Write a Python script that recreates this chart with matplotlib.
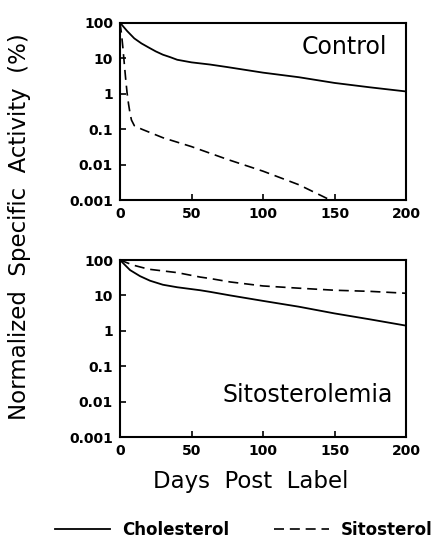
import matplotlib
matplotlib.use("Agg")
import matplotlib.pyplot as plt
import numpy as np

# values (days, % of initial specific activity)
ctrl_chol_days = [0, 5, 10, 15, 20, 25, 30, 35, 40, 50, 63, 75, 100, 125, 150, 175, 200]
ctrl_chol_pct = [100, 58, 36, 26, 20, 15.5, 12.5, 10.7, 9, 7.6, 6.6, 5.6, 3.9, 2.9, 2.0, 1.5, 1.15]

ctrl_sito_days = [0, 1, 2, 3, 4, 5, 6, 7, 8, 10, 15, 30, 50, 75, 100, 125, 147]
ctrl_sito_pct = [100, 50, 20, 7, 2.5, 1.0, 0.5, 0.28, 0.18, 0.125, 0.1, 0.057, 0.032, 0.014, 0.0065, 0.0027, 0.001]

sito_chol_days = [0, 7, 14, 21, 30, 40, 56, 63, 77, 100, 125, 150, 175, 200]
sito_chol_pct = [100, 52, 35, 26, 20, 17, 14, 12.6, 10, 7, 4.8, 3.1, 2.1, 1.4]

sito_sito_days = [0, 9, 20, 40, 56, 63, 77, 100, 125, 150, 175, 200]
sito_sito_pct = [100, 72, 55, 44, 33, 30, 24, 18.5, 16, 14, 13, 11.5]

yticks = [100, 10, 1, 0.1, 0.01, 0.001]
ytick_labels = ["100", "10", "1", "0.1", "0.01", "0.001"]
xticks = [0, 50, 100, 150, 200]

fig = plt.figure(figsize=(4.43, 5.49), dpi=100)
ax1 = fig.add_axes([0.2709, 0.6357, 0.6456, 0.323])
ax2 = fig.add_axes([0.2709, 0.2040, 0.6456, 0.3224])

dash = (0, (6, 3.5))


def style_axis(ax):
    ax.set_yscale("log")
    ax.set_xlim(0, 200)
    ax.set_ylim(0.001, 100)
    ax.set_yticks(yticks)
    ax.set_yticklabels(ytick_labels)
    ax.yaxis.set_minor_locator(matplotlib.ticker.NullLocator())
    ax.set_xticks(xticks)
    ax.tick_params(direction="in", length=4, width=1.2, labelsize=10, pad=5)
    for lab in ax.get_xticklabels() + ax.get_yticklabels():
        lab.set_fontweight("bold")
    for s in ax.spines.values():
        s.set_linewidth(1.5)


l1, = ax1.plot(ctrl_chol_days, ctrl_chol_pct, color="black", lw=1.3)
l2, = ax1.plot(ctrl_sito_days, ctrl_sito_pct, color="black", lw=1.2, linestyle=dash)
style_axis(ax1)
ax1.text(0.934, 0.863, "Control", transform=ax1.transAxes, ha="right", va="center", fontsize=17)

ax2.plot(sito_chol_days, sito_chol_pct, color="black", lw=1.3)
ax2.plot(sito_sito_days, sito_sito_pct, color="black", lw=1.2, linestyle=dash)
style_axis(ax2)
ax2.text(0.953, 0.237, "Sitosterolemia", transform=ax2.transAxes, ha="right", va="center", fontsize=17)

ax2.set_xlabel("Days  Post  Label", fontsize=16.5, va="center")
ax2.xaxis.set_label_coords(0.458, -0.254)
fig.text(0.045, 0.588, "Normalized  Specific  Activity  (%)", rotation=90,
         ha="center", va="center", fontsize=16.5)

fig.legend([l1, l2], ["Cholesterol", "Sitosterol"], loc="center",
           bbox_to_anchor=(0.55, 0.035), ncol=2, frameon=False,
           handlelength=3.3, handletextpad=0.7, columnspacing=2.7,
           prop={"size": 12, "weight": "bold"})

fig.savefig("out.png", dpi=100)
